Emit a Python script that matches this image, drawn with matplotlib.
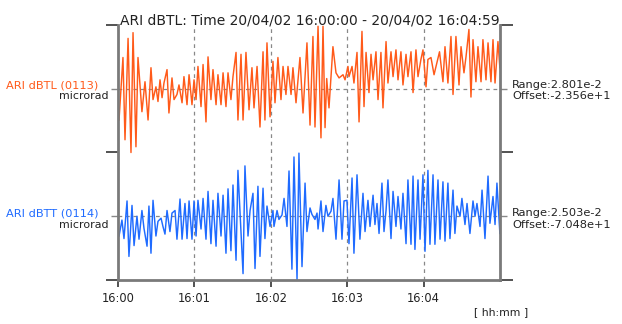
import matplotlib
matplotlib.use('Agg')
import matplotlib.pyplot as plt
import numpy as np

plt.rcParams['font.family'] = ['DejaVu Sans']

# dBTL (0113): seconds after 16:00:00, deviation in % of half the band
dbtl_t = [0.8, 3.9, 5.5, 7.9, 10.2, 11.8, 14.1, 15.7, 18.8, 21.2, 23.6, 25.9, 27.5, 29.8,
          31.4, 33.0, 34.6, 36.1, 38.5, 40.0, 42.4, 44.0, 46.3, 47.9, 50.3, 51.8, 54.2, 55.8,
          58.1, 59.7, 61.3, 62.8, 65.2, 66.8, 69.1, 70.7, 73.0, 74.6, 77.0, 78.5, 80.9, 82.5,
          84.8, 86.4, 88.7, 90.3, 92.7, 94.2, 96.6, 98.2, 100.5, 102.9, 105.2, 106.8, 109.2,
          111.5, 113.9, 115.4, 117.0, 119.4, 121.7, 123.3, 125.6, 128.0, 129.6, 131.9, 133.5,
          135.9, 137.4, 139.8, 142.9, 145.3, 148.4, 150.8, 153.1, 154.7, 157.1, 159.4, 161.0,
          162.6, 163.9, 165.7, 168.8, 171.2, 173.6, 176.7, 178.3, 180.6, 181.4, 183.8, 185.3,
          187.7, 189.3, 191.6, 193.2, 194.8, 197.1, 198.7, 200.3, 202.6, 204.2, 206.5, 208.1,
          210.5, 212.0, 214.4, 216.0, 218.3, 219.9, 222.2, 223.8, 226.2, 227.7, 230.1, 231.7,
          234.0, 235.6, 237.9, 239.5, 241.9, 243.4, 245.8, 248.2, 252.5, 255.2, 256.8, 259.1,
          261.5, 263.1, 265.4, 267.8, 269.4, 271.7, 273.3, 275.6, 277.2, 278.8, 281.1, 282.7,
          285.1, 286.6, 289.0, 290.6, 292.9, 294.5, 296.1, 298.4, 299.9]
dbtl_v = [-49, 49, -80, 79, -100, 88, -91, 49, -36, 11, -49, 33, -17, 3,
          -20, 14, -14, 9, 30, -38, 17, -17, -9, 6, -22, 19, -25, 22,
          -25, 14, -17, 35, -28, 38, -52, 50, -17, 30, -25, 22, -25, 25,
          -28, 25, -17, 19, 57, -49, 54, -49, 57, -33, 33, -30, 35,
          -60, 58, -49, 72, -44, 43, -22, 49, -17, 35, -9, 35,
          -9, 33, -22, 49, -38, 72, -57, 82, -60, 98, -77, 98,
          -61, 16, -30, 66, 25, 17, 22, 14, 35, 19, 35, 9,
          57, -52, 90, -28, 57, -6, 54, 14, 58, -17, 57, -30,
          74, 9, 58, 19, 61, 14, 58, 6, 54, 19, 58, -6,
          61, 19, 46, 61, 3, 46, 49, 22, 58, 11, 66, 9,
          82, -9, 82, 6, 66, 25, 50, 93, -13, 77, 11, 66,
          11, 77, 14, 72, 11, 77, 9, 74, 33]

# dBTT (0114)
dbtt_t = [0.8, 3.1, 4.7, 7.1, 8.6, 11.0, 12.6, 14.9, 16.5, 18.8, 20.4, 22.8, 24.3, 25.9,
          27.5, 29.8, 31.4, 33.8, 35.3, 36.9, 38.5, 40.8, 42.4, 44.8, 46.3, 48.7, 50.3, 52.6,
          54.2, 55.8, 58.1, 59.7, 61.3, 62.8, 65.2, 66.8, 69.1, 70.7, 73.0, 74.6, 77.0, 78.5,
          80.9, 82.5, 84.8, 86.4, 88.7, 90.3, 92.7, 94.2, 98.2, 99.7, 102.1, 103.7, 106.0,
          107.6, 109.9, 111.5, 113.9, 115.4, 117.0, 119.4, 121.7, 122.5, 124.9, 126.4, 128.8,
          130.4, 132.7, 134.3, 136.6, 138.2, 140.6, 142.1, 144.5, 146.9, 148.4, 150.8, 152.3,
          154.7, 156.3, 157.1, 159.4, 161.0, 163.3, 164.9, 167.3, 168.8, 171.2, 173.6, 175.9,
          177.5, 179.8, 181.4, 183.8, 185.3, 187.7, 190.0, 192.4, 194.0, 196.3, 197.9, 200.3,
          201.8, 203.4, 205.0, 207.3, 208.9, 210.5, 212.0, 214.4, 216.0, 218.3, 219.9, 222.2,
          223.8, 226.2, 227.7, 230.1, 231.7, 233.2, 235.6, 237.2, 239.5, 241.1, 243.4, 245.0,
          247.4, 248.9, 251.3, 252.9, 255.2, 256.8, 259.1, 260.7, 263.1, 264.6, 266.2, 268.6,
          270.1, 272.5, 274.1, 276.4, 278.8, 280.4, 281.9, 284.3, 285.9, 288.2, 290.6, 292.1,
          294.5, 296.1, 297.6, 299.9]
dbtt_v = [-31, -6, -35, 24, -63, 17, -46, 0, -36, 9, -19, -47, 16, -58,
          25, -31, -8, -3, -16, -28, 9, -24, 5, 9, -36, 27, -36, 20,
          -35, 24, -36, 24, -31, 25, -20, 28, -36, 39, -43, 25, -47, 36,
          -31, 33, -58, 43, -54, 49, -69, 72, -90, 79, -31, 9, 36,
          -82, 47, -63, 44, -35, 16, -16, 9, -16, 9, -5, 2,
          28, -16, 71, -83, 93, -99, 99, -79, 52, -24, 13, 3,
          -5, 5, -20, 24, -24, 17, 0, 8, 28, -36, 57, -36,
          24, 25, -43, 60, -58, 65, -36, 36, -24, 25, -16, 33,
          -13, 20, -27, 52, -24, 9, 57, -35, 39, -16, 31, -20,
          36, -43, 57, -44, 63, -52, 57, -36, 65, -55, 72, -44,
          65, -44, 57, -36, 54, -39, 52, -35, 41, -27, 16, 0,
          28, -13, 20, -27, 24, 0, 20, -16, 41, -35, 63, -11,
          31, -13, 52, -27]

tick_pos = [0, 60, 120, 180, 240]
tick_lab = ['16:00', '16:01', '16:02', '16:03', '16:04']

orange = '#ff5a1a'
blue = '#1f6bff'
grey = '#888888'
ink = '#222222'

W, H = 622, 324
def px(x, y):
    return x / W, 1 - y / H

fig = plt.figure(figsize=(6.22, 3.24), dpi=100)
ax = fig.add_axes([118/W, 44/H, 382/W, 255/H])

ax.plot(dbtl_t, 1.5 + np.array(dbtl_v) / 200, color=orange, lw=1.05)
ax.plot(dbtt_t, 0.5 + np.array(dbtt_v) / 200, color=blue, lw=1.05)

for c in [0.5, 1.5]:
    ax.axhline(c, color=grey, ls=(0, (3, 3)), lw=0.9, zorder=0)
for t in tick_pos[1:]:
    ax.axvline(t, color=grey, ls=(0, (3, 3)), lw=0.9, zorder=0)

ax.set_xlim(0, 300)
ax.set_ylim(0, 2)
ax.spines['top'].set_visible(False)
for s in ['left', 'right', 'bottom']:
    ax.spines[s].set_color('#7a7a7a')
    ax.spines[s].set_linewidth(2)

ax.set_xticks(tick_pos)
ax.set_xticklabels(tick_lab, fontsize=8.3, color=ink)
ax.tick_params(axis='x', length=5, width=1.2, color='#333333', pad=4)
ax.set_yticks([0, 1, 2])
ax.set_yticks([0.5, 1.5], minor=True)
ax.tick_params(axis='y', which='major', left=True, right=True, labelleft=False,
               length=9, width=1.3, color='#444444')
ax.tick_params(axis='y', which='minor', left=True, right=True, labelleft=False,
               length=5, width=1, color=grey)

fig.text(*px(310, 24), 'ARI dBTL: Time 20/04/02 16:00:00 - 20/04/02 16:04:59',
         ha='center', va='baseline', fontsize=10, color=ink)

labels = [(88, 'ARI dBTL (0113)', orange, '2.801e-2', '-2.356e+1'),
          (216, 'ARI dBTT (0114)', blue, '2.503e-2', '-7.048e+1')]
for yb, name, col, rng, off in labels:
    fig.text(*px(98, yb), name, ha='right', va='baseline', fontsize=8.2, color=col)
    fig.text(*px(108, yb + 11.5), 'microrad', ha='right', va='baseline',
             fontsize=7.9, color=ink)
    fig.text(*px(512, yb), 'Range:' + rng, ha='left', va='baseline',
             fontsize=8.2, color=ink)
    fig.text(*px(512, yb + 11.5), 'Offset:' + off, ha='left', va='baseline',
             fontsize=8.2, color=ink)

fig.text(*px(501, 315), '[ hh:mm ]', ha='center', va='baseline', fontsize=7.8,
         color=ink)

fig.savefig('out.png', dpi=100)
